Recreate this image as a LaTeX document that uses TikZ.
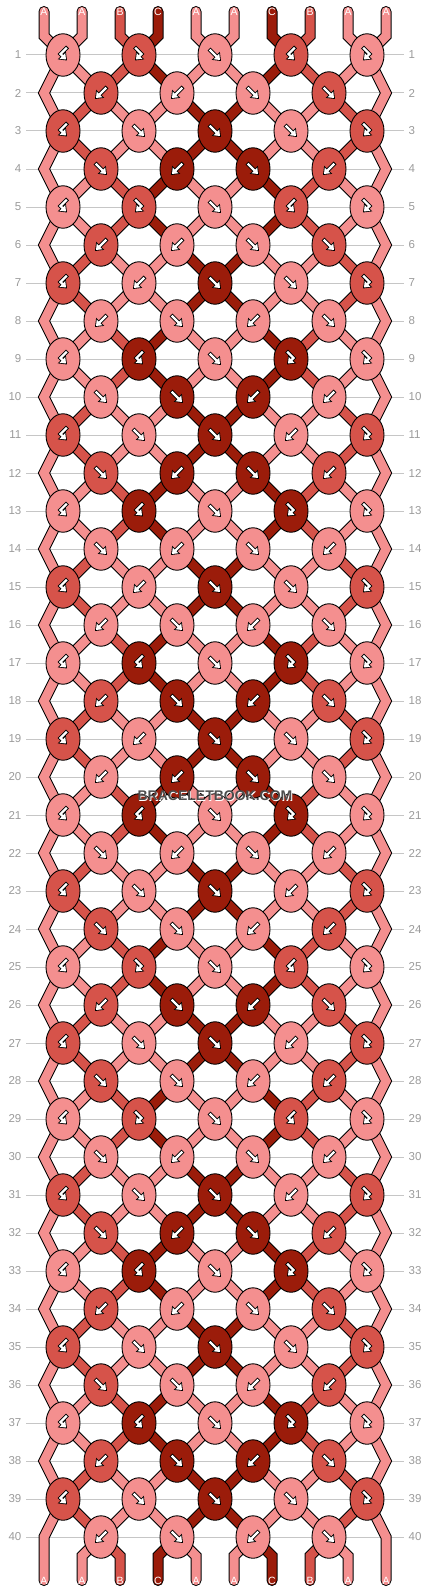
\documentclass[tikz,border=0pt]{standalone}
\usepackage{fontspec}
\newfontfamily\braidfont{Liberation Sans}
\usetikzlibrary{shapes.geometric,arrows.meta}

\definecolor{threadA}{HTML}{F48F8F}
\definecolor{threadB}{HTML}{D6534A}
\definecolor{threadC}{HTML}{9B1C0A}
\definecolor{gridgray}{HTML}{C6C6C6}
\definecolor{labelgray}{HTML}{9A9A9A}

\pgfdeclarelayer{strands}
\pgfsetlayers{strands,main}

\tikzset{
  knot_style/.style={ellipse,draw=black,line width=0.9pt,minimum width=34pt,minimum height=42.5pt,inner sep=0pt},
  strand_style/.style={draw=black,line width=1pt,double distance=9pt,line cap=round},
  grid_style/.style={draw=gridgray,line width=1pt},
  row_style/.style={text=labelgray,font=\braidfont\fontsize{11.5}{12}\selectfont,inner sep=0pt},
  end_style/.style={text=white,font=\braidfont\fontsize{10.5}{11}\selectfont,inner sep=0pt},
  mark_style/.style={font=\braidfont\bfseries\fontsize{14}{14}\selectfont,inner sep=0pt},
  arrow_out/.style={draw=black,line width=4.2pt,-{Triangle[length=7.4pt,width=11pt]}},
  arrow_in/.style={draw=white,line width=2.3pt,shorten >=1.4pt,shorten <=1pt,-{Triangle[length=5pt,width=7.6pt]}}
}

% colour letter carried at each position
\newcommand\setthread[2]{\expandafter\xdef\csname thread#1\endcsname{#2}}
\newcommand\drawarrow[2]{%
  \draw[arrow_out,shift={(#1.center)}] #2;
  \draw[arrow_in,shift={(#1.center)}] #2;}

\begin{document}
\begin{tikzpicture}[x=1pt,y=-1pt]
\useasboundingbox (0,0) rectangle (430,1592);

% grid lines and row numbers
\begin{pgfonlayer}{strands}
\foreach \rw in {1,...,40} {
  \pgfmathsetmacro\yy{55+38*(\rw-1)}
  \draw[grid_style] (26,\yy) -- (404,\yy);
}
\end{pgfonlayer}
\foreach \rw in {1,...,40} {
  \pgfmathsetmacro\yy{55+38*(\rw-1)}
  \node[row_style,anchor=east] (left\rw) at (21.5,\yy) {\rw};
  \node[row_style,anchor=west] (right\rw) at (408.5,\yy) {\rw};
}

% threads at the top
\foreach \c [count=\i] in {A,A,B,C,A,A,C,B,A,A} {
  \setthread{\i}{\c}
  \pgfmathsetmacro\xx{44+38*(\i-1)}
  \node[end_style] (top\i) at (\xx,11.5) {\c};
}

% knots, row by row: f forward, b backward, F forward-backward, B backward-forward
\foreach \codes [count=\rw] in {
  {B,F,f,B,F},{b,b,f,f},{B,f,f,f,F},{f,b,f,b},{B,F,f,B,F},{b,b,f,f},{B,b,f,f,F},{b,f,b,f},
  {B,B,f,F,F},{f,f,b,b},{B,f,f,b,F},{f,b,f,b},{B,B,f,F,F},{f,b,f,b},{B,b,f,f,F},{b,f,b,f},
  {B,B,f,F,F},{b,f,b,f},{B,b,f,f,F},{b,b,f,f},{B,B,f,F,F},{f,b,f,b},{B,f,f,b,F},{f,f,b,b},
  {B,F,f,B,F},{b,f,b,f},{B,f,f,b,F},{f,f,b,b},{B,F,f,B,F},{f,b,f,b},{B,f,f,b,F},{f,b,f,b},
  {B,B,f,F,F},{b,b,f,f},{B,f,f,f,F},{f,f,b,b},{B,B,f,F,F},{b,f,b,f},{B,f,f,f,F},{b,f,b,f}} {
  \pgfmathtruncatemacro\isodd{mod(\rw,2)}
  \pgfmathtruncatemacro\rone{\rw-1}
  \pgfmathtruncatemacro\rtwo{\rw-2}
  \pgfmathsetmacro\yy{55+38*(\rw-1)}
  \foreach \kt [count=\kn] in \codes {
    \pgfmathtruncatemacro\kmin{\kn-1}
    \pgfmathtruncatemacro\kplus{\kn+1}
    \ifnum\isodd=1
      \pgfmathtruncatemacro\posl{2*\kn-1}
      \pgfmathsetmacro\xx{63+76*(\kn-1)}
    \else
      \pgfmathtruncatemacro\posl{2*\kn}
      \pgfmathsetmacro\xx{101+76*(\kn-1)}
    \fi
    \pgfmathtruncatemacro\posr{\posl+1}
    \edef\ca{\csname thread\posl\endcsname}
    \edef\cb{\csname thread\posr\endcsname}
    \let\kc\cb
    \if\kt f\let\kc\ca\fi
    \if\kt F\let\kc\ca\fi
    \node[knot_style,fill=thread\kc] (n-\rw-\kn) at (\xx,\yy) {};
    \begin{pgfonlayer}{strands}
    \ifnum\rw=1
      \draw[strand_style,double=thread\ca] (top\posl.center) -- ++(0,24.5) -- (n-1-\kn.center);
      \draw[strand_style,double=thread\cb] (top\posr.center) -- ++(0,24.5) -- (n-1-\kn.center);
    \else
      \ifnum\isodd=1
        \ifnum\kn=1
          \draw[strand_style,double=thread\ca] (n-\rtwo-1.center) -- ++(-19,38) -- (n-\rw-1.center);
        \else
          \draw[strand_style,double=thread\ca] (n-\rone-\kmin.center) -- (n-\rw-\kn.center);
        \fi
        \ifnum\kn=5
          \draw[strand_style,double=thread\cb] (n-\rtwo-5.center) -- ++(19,38) -- (n-\rw-5.center);
        \else
          \draw[strand_style,double=thread\cb] (n-\rone-\kn.center) -- (n-\rw-\kn.center);
        \fi
      \else
        \draw[strand_style,double=thread\ca] (n-\rone-\kn.center) -- (n-\rw-\kn.center);
        \draw[strand_style,double=thread\cb] (n-\rone-\kplus.center) -- (n-\rw-\kn.center);
      \fi
    \fi
    \end{pgfonlayer}
    \if\kt f\drawarrow{n-\rw-\kn}{(-6,-6) -- (6,6)}\fi
    \if\kt b\drawarrow{n-\rw-\kn}{(6,-6) -- (-6,6)}\fi
    \if\kt F\drawarrow{n-\rw-\kn}{(-4.5,-8) -- (2.5,-1) -- (-4,5.5)}\fi
    \if\kt B\drawarrow{n-\rw-\kn}{(4.5,-8) -- (-2.5,-1) -- (4,5.5)}\fi
    % straight knots swap the two threads
    \if\kt f\setthread{\posl}{\cb}\setthread{\posr}{\ca}\fi
    \if\kt b\setthread{\posl}{\cb}\setthread{\posr}{\ca}\fi
  }
}

% threads at the bottom
\foreach \i in {1,...,10} {
  \edef\ce{\csname thread\i\endcsname}
  \pgfmathsetmacro\xx{44+38*(\i-1)}
  \pgfmathtruncatemacro\kk{floor(\i/2)}
  \node[end_style] (bot\i) at (\xx,1580.5) {\ce};
  \begin{pgfonlayer}{strands}
  \ifnum\i=1
    \draw[strand_style,double=thread\ce] (n-39-1.center) -- ++(-19,38) -- (bot1.center);
  \else\ifnum\i=10
    \draw[strand_style,double=thread\ce] (n-39-5.center) -- ++(19,38) -- (bot10.center);
  \else\ifodd\i
    \draw[strand_style,double=thread\ce] (n-40-\kk.center) -- ++(19,19) -- (bot\i.center);
  \else
    \draw[strand_style,double=thread\ce] (n-40-\kk.center) -- ++(-19,19) -- (bot\i.center);
  \fi\fi\fi
  \end{pgfonlayer}
}

% watermark with its light halo
\node[mark_style,text=white] (brandhalo) at (215.8,796.8) {BRACELETBOOK.COM};
\node[mark_style,text=black!70] (brand) at (215,796) {BRACELETBOOK.COM};
\end{tikzpicture}
\end{document}
